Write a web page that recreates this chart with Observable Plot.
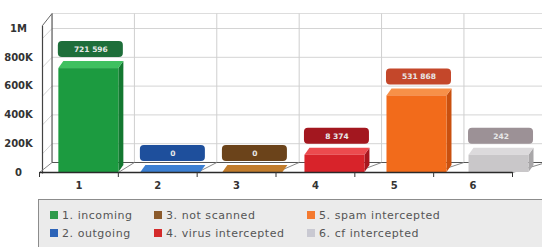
<!DOCTYPE html>
<html>
<head>
<meta charset="utf-8">
<script src="https://cdn.jsdelivr.net/npm/d3@7"></script>
<script src="https://cdn.jsdelivr.net/npm/@observablehq/plot@0.6"></script>
<style>
  html, body { margin: 0; padding: 0; background: #ffffff; width: 542px; height: 247px; overflow: hidden; }
  #chart svg { display: block; }
  #legend {
    position: absolute; left: 38px; top: 199px; width: 520px; height: 70px;
    background: #ebebeb; border: 1.5px solid #8c8c8c; box-sizing: border-box;
    font-family: "DejaVu Sans", sans-serif; font-size: 11px; color: #555; letter-spacing: 0.55px;
  }
  .item { position: absolute; display: flex; align-items: center; white-space: nowrap; height: 14px; }
  .sw { width: 8px; height: 8px; margin-right: 4px; }
</style>
</head>
<body>
<div id="chart"></div>
<div id="legend"></div>
<script>
// ---- data ----
const categories = ["1", "2", "3", "4", "5", "6"];
const seriesNames = ["incoming", "outgoing", "not scanned", "virus intercepted", "spam intercepted", "cf intercepted"];
const values = [721596, 0, 0, 8374, 531868, 242];
const yTicks = [0, 200000, 400000, 600000, 800000, 1000000];
const yTickLabels = ["0", "200K", "400K", "600K", "800K", "1M"];

// ---- styles ----
const frontColors = ["#1c9b40", "#3c7fd2", "#c27c2b", "#d8232a", "#f26b1b", "#c9c7c9"];
const topColors   = ["#3fc060", "#3c7fd2", "#c27c2b", "#ec4a4e", "#f79048", "#dcdadc"];
const sideColors  = ["#137830", "#2a5fa8", "#94591c", "#a8161e", "#c9500f", "#a9a7a9"];
const boxColors   = ["#1e6e3a", "#1e4f9c", "#6b431a", "#a3171f", "#c4472a", "#9c9196"];
const legendColors = ["#2d9a4a", "#2d64b8", "#8b5a2b", "#d42a2a", "#f47a30", "#c9c9d2"];

const W = 542, H = 199, mL = 39, mR = 30, mT = 28, mB = 27;
const ux = 6 / (W - mL - mR);          // x units per pixel
const uy = 1e6 / (H - mT - mB);        // y units per pixel
const depthX = 5 * ux, depthY = 7 * uy;
const barHalf = 30 * ux;
const minVisible = 120000;             // minimum drawn height of a non-zero bar
const backU = u => 0.659 + 1.045 * (u - 0.5);
const backFloor = 10 * uy;
const wallTop = 1e6 + 15 * uy;
const leftFrontX = 0.5 + 3 * ux;
const leftFrontTop = 1e6 + 3 * uy;
const fmt = v => d3.format(",")(v).replace(/,/g, " ");

const bars = values.map((v, i) => ({
  i, cat: +categories[i], v,
  h: v > 0 ? Math.max(v, minVisible) : 0,
  c: 0.606 + 1.0406 * i + 0.52
}));

const topFace = bars.flatMap(b => [
  {id: b.i, y: b.h, x1: b.c - barHalf, x2: b.c + barHalf, fill: topColors[b.i]},
  {id: b.i, y: b.h + depthY, x1: b.c - barHalf + depthX, x2: b.c + barHalf + depthX, fill: topColors[b.i]}
]);
const sideFace = bars.filter(b => b.h > 0).flatMap(b => [
  {id: b.i, x: b.c + barHalf, y1: 0, y2: b.h, fill: sideColors[b.i]},
  {id: b.i, x: b.c + barHalf + depthX, y1: depthY, y2: b.h + depthY, fill: sideColors[b.i]}
]);

const bounds = d3.range(0.5, 7, 1);
const innerBounds = bounds.slice(1, -1);
const gridTicks = yTicks.slice(1);

const plot = Plot.plot({
  width: W, height: H,
  marginLeft: mL, marginRight: mR, marginTop: mT, marginBottom: mB,
  x: {domain: [0.5, 6.5], axis: null},
  y: {domain: [0, 1e6], axis: null},
  color: {type: "identity"},
  style: {fontFamily: "DejaVu Sans, sans-serif", background: "#ffffff", overflow: "visible"},
  marks: [
    // back wall horizontal grid
    Plot.link(gridTicks, {x1: backU(0.5), x2: backU(6.5), y1: d => d, y2: d => d, stroke: "#d4d4d4", strokeWidth: 1}),
    Plot.link([wallTop], {x1: backU(0.5), x2: backU(6.5), y1: d => d, y2: d => d, stroke: "#dddddd", strokeWidth: 1}),
    // back wall vertical grid
    Plot.link(innerBounds, {x1: d => backU(d), x2: d => backU(d), y1: backFloor, y2: wallTop, stroke: "#cfcfcf", strokeWidth: 1}),
    // left wall grid (diagonals)
    Plot.link(gridTicks, {x1: leftFrontX, x2: backU(0.5), y1: d => d - backFloor, y2: d => d, stroke: "#d4d4d4", strokeWidth: 1}),
    // left wall edges
    Plot.link([0], {x1: backU(0.5), x2: backU(0.5), y1: backFloor, y2: wallTop, stroke: "#555", strokeWidth: 1.2}),
    Plot.link([0], {x1: leftFrontX, x2: leftFrontX, y1: -1 * uy, y2: leftFrontTop, stroke: "#444", strokeWidth: 1.2}),
    Plot.link([0], {x1: leftFrontX, x2: backU(0.5), y1: leftFrontTop, y2: wallTop, stroke: "#666", strokeWidth: 1}),
    // floor
    Plot.link([0], {x1: backU(0.5), x2: backU(6.5), y1: backFloor, y2: backFloor, stroke: "#555", strokeWidth: 1.2}),
    Plot.link(bounds, {x1: d => d, x2: d => backU(d), y1: 0, y2: backFloor, stroke: "#888", strokeWidth: 1}),
    // bars: side, top, front
    Plot.areaY(sideFace, {x: "x", y1: "y1", y2: "y2", z: "id", fill: "fill"}),
    Plot.areaX(topFace, {y: "y", x1: "x1", x2: "x2", z: "id", fill: "fill"}),
    Plot.rect(bars.filter(b => b.h > 0), {x1: b => b.c - barHalf, x2: b => b.c + barHalf, y1: 0, y2: "h", fill: b => frontColors[b.i]}),
    // front axis line and ticks
    Plot.link([0], {x1: 0.5, x2: 6.5, y1: 0, y2: 0, stroke: "#2a2a2a", strokeWidth: 1.5}),
    Plot.ruleX(bounds, {x: d => d, y1: 0, y2: -5 * uy, stroke: "#333", strokeWidth: 1}),
    // value label boxes
    Plot.rect(bars, {x1: b => b.c - 32.5 * ux + 2 * ux, x2: b => b.c + 32.5 * ux + 2 * ux, y1: b => b.h + 11 * uy, y2: b => b.h + 27 * uy, fill: b => boxColors[b.i], rx: 4}),
    Plot.text(bars, {x: b => b.c + 2 * ux, y: b => b.h + 19 * uy, text: b => fmt(b.v), fill: "#e8e8e8", fontSize: 7.5, fontWeight: "bold"}),
    // x tick labels
    Plot.text(bars, {x: "cat", y: 0, dy: 13, text: b => categories[b.i], fill: "#333", fontSize: 10, fontWeight: "bold"}),
    // y tick labels
    Plot.text(yTicks, {y: d => d, frameAnchor: "left", dx: -21, textAnchor: "middle", text: (d, i) => yTickLabels[i], fill: "#333", fontSize: 10, fontWeight: "bold"})
  ]
});
document.getElementById("chart").appendChild(plot);

// legend
const legend = document.getElementById("legend");
const colLeft = [11, 115, 268];
seriesNames.forEach((name, i) => {
  const col = Math.floor(i / 2), row = i % 2;
  const el = document.createElement("div");
  el.className = "item";
  el.style.left = colLeft[col] + "px";
  el.style.top = (row === 0 ? 8 : 26) + "px";
  el.innerHTML = `<span class="sw" style="background:${legendColors[i]}"></span><span>${categories[i]}. ${name}</span>`;
  legend.appendChild(el);
});
</script>
</body>
</html>
